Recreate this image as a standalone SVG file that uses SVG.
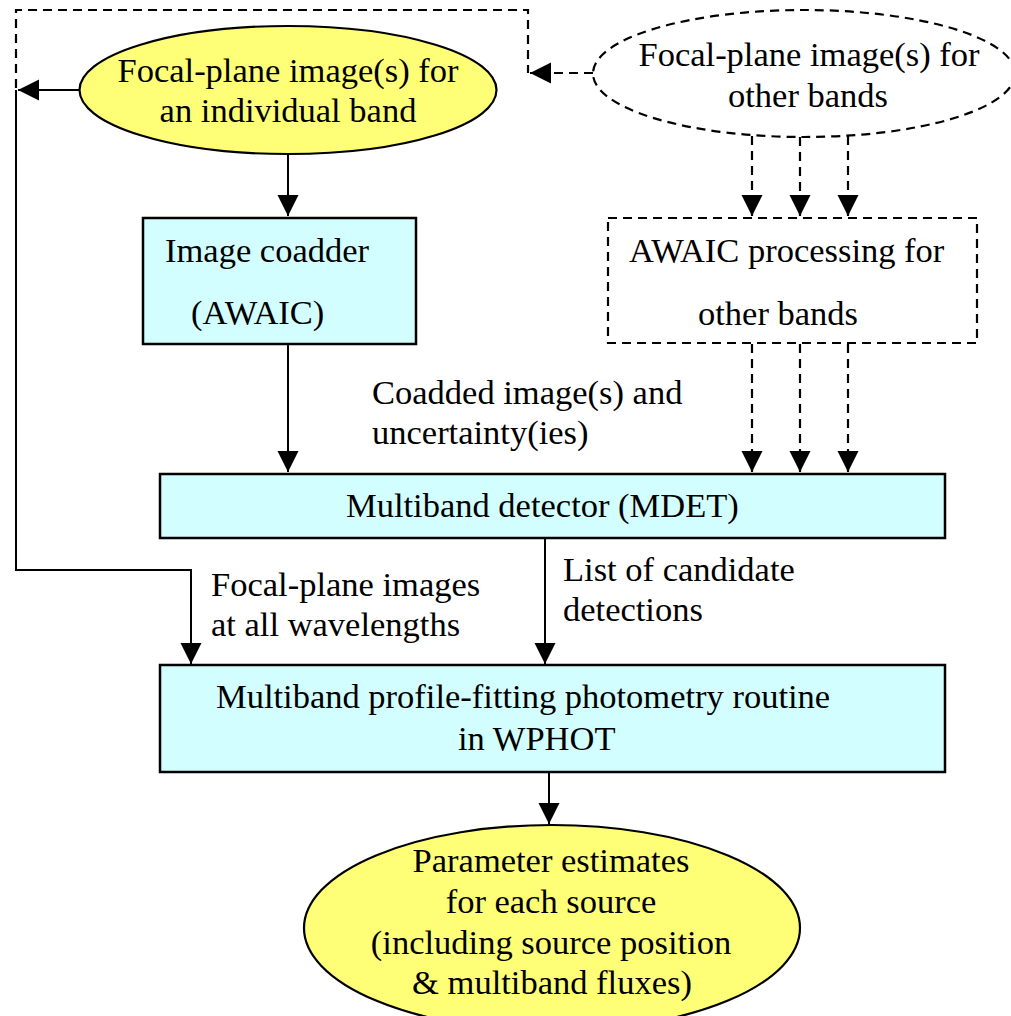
<svg xmlns="http://www.w3.org/2000/svg" width="1011" height="1016" viewBox="0 0 1011 1016">
  <style>
    text { font-family: "Liberation Serif", "Times New Roman", serif; font-size: 34.5px; fill: #000; }
    .mid { text-anchor: middle; }
    .yellow { fill: #FFFF77; stroke: #000; stroke-width: 2.2; }
    .cyan { fill: #D2FEFF; stroke: #000; stroke-width: 2.5; }
    .dash { fill: none; stroke: #000; stroke-width: 2.2; stroke-dasharray: 9 6; }
    .line { fill: none; stroke: #000; stroke-width: 2; }
  </style>
  <defs>
    <marker id="arrow" markerUnits="userSpaceOnUse" markerWidth="22" markerHeight="22" refX="21" refY="10.5" orient="auto">
      <path d="M0,0 L21,10.5 L0,21 z" fill="#000"/>
    </marker>
  </defs>
  <rect width="1011" height="1016" fill="#fff"/>

  <!-- connectors and their labels -->
  <g id="connectors">
    <path class="line" d="M80,90 H18" marker-end="url(#arrow)"/>
    <path class="line" d="M16,90 V570 H191 V664" marker-end="url(#arrow)"/>
    <path class="dash" d="M16,88 V10 H528 V73"/>
    <path class="dash" d="M593,73 H530" marker-end="url(#arrow)"/>
    <path class="line" d="M288,155 V216" marker-end="url(#arrow)"/>
    <path class="line" d="M288,345 V472" marker-end="url(#arrow)"/>
    <path class="dash" d="M752,136 V216" marker-end="url(#arrow)"/>
    <path class="dash" d="M800,137 V216" marker-end="url(#arrow)"/>
    <path class="dash" d="M848,136 V216" marker-end="url(#arrow)"/>
    <path class="dash" d="M752,344 V472" marker-end="url(#arrow)"/>
    <path class="dash" d="M800,344 V472" marker-end="url(#arrow)"/>
    <path class="dash" d="M848,344 V472" marker-end="url(#arrow)"/>
    <path class="line" d="M545,539 V664" marker-end="url(#arrow)"/>
    <path class="line" d="M549,773 V824" marker-end="url(#arrow)"/>
    <text x="372" y="404">Coadded image(s) and</text>
    <text x="372" y="444">uncertainty(ies)</text>
    <text x="211" y="596">Focal-plane images</text>
    <text x="211" y="636">at all wavelengths</text>
    <text x="563" y="581">List of candidate</text>
    <text x="563" y="621">detections</text>
  </g>

  <g id="focal-band">
    <ellipse class="yellow" cx="288" cy="90" rx="208.5" ry="64"/>
    <text class="mid" x="288" y="82">Focal-plane image(s) for</text>
    <text class="mid" x="288" y="122">an individual band</text>
  </g>

  <g id="focal-other">
    <ellipse class="dash" cx="804" cy="73.5" rx="211" ry="63.5"/>
    <text class="mid" x="809" y="66">Focal-plane image(s) for</text>
    <text class="mid" x="808" y="107">other bands</text>
  </g>

  <g id="coadder">
    <rect class="cyan" x="143" y="218" width="273" height="126"/>
    <text x="165" y="262">Image coadder</text>
    <text x="191" y="324">(AWAIC)</text>
  </g>

  <g id="awaic-other">
    <rect class="dash" x="608" y="218" width="369" height="125"/>
    <text x="629" y="262">AWAIC processing for</text>
    <text x="698" y="325">other bands</text>
  </g>

  <g id="mdet">
    <rect class="cyan" x="160" y="474" width="785" height="64"/>
    <text x="346" y="517">Multiband detector (MDET)</text>
  </g>

  <g id="wphot">
    <rect class="cyan" x="160" y="665" width="785" height="107"/>
    <text x="216" y="708">Multiband profile-fitting photometry routine</text>
    <text x="458" y="750">in WPHOT</text>
  </g>

  <g id="parameters">
    <ellipse class="yellow" cx="552" cy="928" rx="248" ry="103"/>
    <text class="mid" x="551" y="872">Parameter estimates</text>
    <text class="mid" x="551" y="913">for each source</text>
    <text class="mid" x="551" y="954">(including source position</text>
    <text class="mid" x="552" y="994">&amp; multiband fluxes)</text>
  </g>
</svg>
